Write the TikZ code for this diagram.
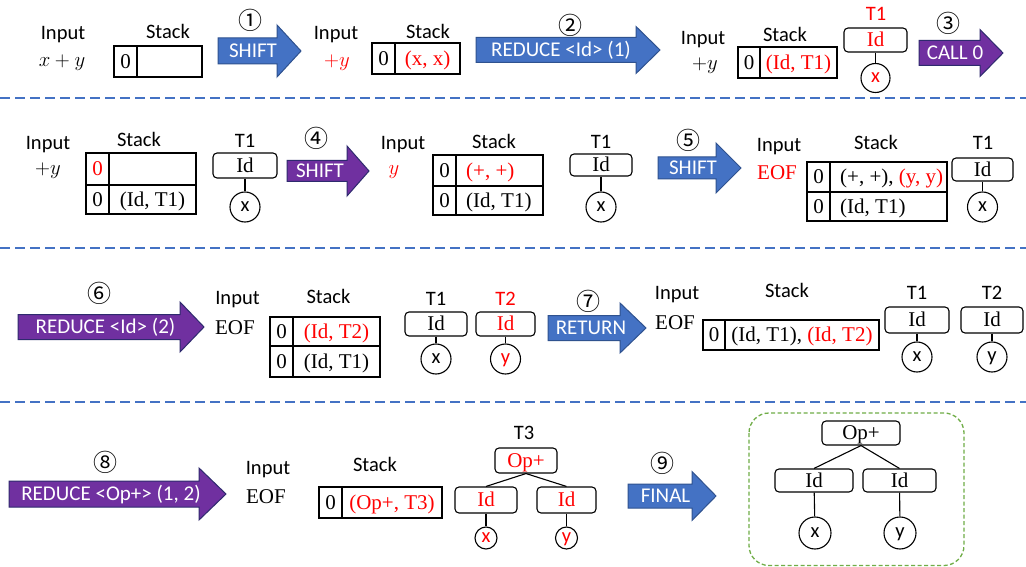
\documentclass[tikz,border=0pt]{standalone}
\usepackage{fontspec}
\setmainfont{Liberation Serif}
\newfontfamily\carlito{Carlito}
\newfontfamily\cjknum{Noto Sans CJK SC}
\definecolor{pblue}{HTML}{4472C4}
\definecolor{pblueb}{HTML}{2F528F}
\definecolor{ppurple}{HTML}{7030A0}
\definecolor{ppurpleb}{HTML}{2E2A6E}
\definecolor{pgreen}{HTML}{70AD47}
\definecolor{pred}{HTML}{FF0000}
\newcounter{arrowno}
\newcommand{\flowarrow}[9]{%
 \stepcounter{arrowno}%
 \filldraw[#7] ({#1},{#4-#5}) -- ({#2},{#4-#5}) -- ({#2},{#4-#6}) -- ({#3},{#4}) -- ({#2},{#4+#6}) -- ({#2},{#4+#5}) -- ({#1},{#4+#5}) -- cycle;
 \node[arrowtext] (arrow\arabic{arrowno}) at ({#8},{#4}) {#9};}
\tikzset{
 lab/.style={font=\carlito\fontsize{20.5}{24}\selectfont, inner sep=0pt, text height=13pt, text depth=0pt},
 ser/.style={font=\fontsize{21}{25}\selectfont, inner sep=0pt, text height=13.9pt, text depth=0pt},
 mth/.style={font=\fontsize{20}{24}\selectfont, inner sep=0pt, text height=8.6pt, text depth=0pt},
 arrowtext/.style={font=\carlito\fontsize{21}{25}\selectfont, text=white, inner sep=0pt, text height=13.2pt, text depth=0pt},
 stepnum/.style={font=\cjknum\fontsize{24}{28}\selectfont, inner sep=0pt},
 bluearrow/.style={fill=pblue, draw=pblueb, line width=1pt},
 purplearrow/.style={fill=ppurple, draw=ppurpleb, line width=1pt},
 stk/.style={line width=1.2pt, draw=black},
 treebox/.style={draw, rounded corners=4pt, line width=1.1pt, inner sep=0pt, font=\fontsize{21}{25}\selectfont, text height=13.9pt, text depth=0pt},
 leaf/.style={draw, circle, line width=1.1pt, inner sep=0pt, font=\carlito\fontsize{20.5}{24}\selectfont, text height=9.5pt, text depth=0pt},
 conn/.style={line width=1.1pt},
 sep/.style={draw=pblue, line width=1.3pt, dash pattern=on 10pt off 5pt},
}
\begin{document}
\begin{tikzpicture}[x=1pt,y=-1pt]
\useasboundingbox[fill=white] (0,0) rectangle (1026,567);

% ---------- Row 1 ----------
\node[lab] (in1) at (63,33) {Input};
\node[mth] (v1) at (62,62) {$x+y$};
\node[lab] (s1) at (168,32) {Stack};
\draw[stk] (114,46) rectangle (202,77); \draw[stk] (137,46) -- (137,77);
\node[ser] (z1) at (125.5,61.5) {0};
\node[stepnum] (n1) at (250,20) {①};
\flowarrow{218}{277}{301}{51}{13}{26}{bluearrow}{253}{SHIFT}

\node[lab] (in2) at (336,33) {Input};
\node[mth, text=pred] (v2) at (337,62) {$+y$};
\node[lab] (s2) at (428,32) {Stack};
\draw[stk] (372,43) rectangle (460,74); \draw[stk] (395,43) -- (395,74);
\node[ser] (z2) at (383.5,58.5) {0};
\node[ser, text=pred] (c2) at (427.5,58.5) {(x, x)};
\node[stepnum] (n2) at (570,25) {②};
\flowarrow{476}{636}{660}{50}{12.5}{23.5}{bluearrow}{561}{REDUCE <Id> (1)}

\node[lab] (in3) at (703,38) {Input};
\node[mth] (v3) at (705,65) {$+y$};
\node[lab] (s3) at (785,35) {Stack};
\draw[stk] (738,47) rectangle (837,78); \draw[stk] (760,47) -- (760,78);
\node[ser] (z3) at (749,62.5) {0};
\node[ser, text=pred] (c3) at (798.5,62.5) {(Id, T1)};
\node[lab, text=pred] (t1a) at (876,14) {T1};
\node[treebox, minimum width=63pt, minimum height=24pt, text=pred] (ida) at (875.5,40) {Id};
\node[leaf, minimum size=29pt, text=pred] (xa) at (875.5,78) {x};
\draw[conn] (ida) -- (xa);
\node[stepnum] (n3) at (948,23) {③};
\flowarrow{919}{980}{1003}{53}{12.5}{23.5}{purplearrow}{955}{CALL 0}

\draw[sep] (0,98) -- (1026,98);

% ---------- Row 2 ----------
\node[lab] (in4) at (48,143) {Input};
\node[mth] (v4) at (48,170) {$+y$};
\node[lab] (s4) at (139,140) {Stack};
\draw[stk] (86,153) rectangle (196,214); \draw[stk] (86,185) -- (196,185); \draw[stk] (109,153) -- (109,214);
\node[ser, text=pred] (z4a) at (97.5,169) {0};
\node[ser] (z4b) at (97.5,199.5) {0};
\node[ser] (c4b) at (152.5,199.5) {(Id, T1)};
\node[lab] (t1b) at (245,141) {T1};
\node[treebox, minimum width=64pt, minimum height=25pt] (idb) at (245,165.5) {Id};
\node[leaf, minimum size=30pt] (xb) at (245,207) {x};
\draw[conn] (idb) -- (xb);
\node[stepnum] (n4) at (316,138) {④};
\flowarrow{287}{347}{369}{171}{10.5}{25}{purplearrow}{320}{SHIFT}

\node[lab] (in5) at (403,143) {Input};
\node[mth, text=pred] (v5) at (394,170) {$y$};
\node[lab] (s5) at (494,142) {Stack};
\draw[stk] (433,155) rectangle (543,215); \draw[stk] (433,186) -- (543,186); \draw[stk] (456,155) -- (456,215);
\node[ser] (z5a) at (444.5,170.5) {0};
\node[ser] (z5b) at (444.5,200.5) {0};
\node[ser, text=pred, anchor=west] (c5a) at (466,170.5) {(+, +)};
\node[ser, anchor=west] (c5b) at (466,200.5) {(Id, T1)};
\node[lab] (t1c) at (601,142.5) {T1};
\node[treebox, minimum width=62pt, minimum height=22pt] (idc) at (601,165) {Id};
\node[leaf, minimum size=30pt] (xc) at (601,207) {x};
\draw[conn] (idc) -- (xc);
\node[stepnum] (n5) at (688,140) {⑤};
\flowarrow{658}{716}{741}{168}{11}{25}{bluearrow}{693}{SHIFT}

\node[lab] (in6) at (779,145) {Input};
\node[ser, text=pred] (v6) at (777,172.5) {EOF};
\node[lab] (s6) at (876,143) {Stack};
\draw[stk] (807,162) rectangle (947,221); \draw[stk] (807,192) -- (947,192); \draw[stk] (830,162) -- (830,221);
\node[ser] (z6a) at (818.5,177) {0};
\node[ser] (z6b) at (818.5,206.5) {0};
\node[ser, anchor=west] (c6a) at (840,177) {(+, +), \textcolor{pred}{(y, y)}};
\node[ser, anchor=west] (c6b) at (840,206.5) {(Id, T1)};
\node[lab] (t1d) at (983,143) {T1};
\node[treebox, minimum width=61pt, minimum height=23pt] (idd) at (982.5,169.5) {Id};
\node[leaf, minimum size=30pt] (xd) at (982.5,207) {x};
\draw[conn] (idd) -- (xd);

\draw[sep] (0,248) -- (1026,248);

% ---------- Row 3 ----------
\node[stepnum] (n6) at (99,293) {⑥};
\flowarrow{18}{180}{204}{327}{12.5}{25}{purplearrow}{105.5}{REDUCE <Id> (2)}
\node[lab] (in7) at (237.5,298) {Input};
\node[ser] (v7) at (235,327.5) {EOF};
\node[lab] (s7) at (328.5,297) {Stack};
\draw[stk] (270,317) rectangle (380,377); \draw[stk] (270,346) -- (380,346); \draw[stk] (293,317) -- (293,377);
\node[ser] (z7a) at (281.5,331.5) {0};
\node[ser] (z7b) at (281.5,361.5) {0};
\node[ser, text=pred] (c7a) at (336.5,331.5) {(Id, T2)};
\node[ser] (c7b) at (336.5,361.5) {(Id, T1)};
\node[lab] (t1e) at (436,299) {T1};
\node[treebox, minimum width=62pt, minimum height=24pt] (ide) at (436,324) {Id};
\node[leaf, minimum size=30pt] (xe) at (436,359) {x};
\draw[conn] (ide) -- (xe);
\node[lab, text=pred] (t2e) at (505.5,299) {T2};
\node[treebox, minimum width=59pt, minimum height=24pt, text=pred] (ide2) at (505.5,324) {Id};
\node[leaf, minimum size=30pt, text=pred] (ye) at (505.5,359) {y};
\draw[conn] (ide2) -- (ye);
\node[stepnum] (n7) at (588,301) {⑦};
\flowarrow{548}{620}{646}{328}{12.5}{25}{bluearrow}{591}{RETURN}

\node[lab] (in8) at (677,293) {Input};
\node[ser] (v8) at (675,322.5) {EOF};
\node[lab] (s8) at (787,291) {Stack};
\draw[stk] (703,320) rectangle (879,350); \draw[stk] (725,320) -- (725,350);
\node[ser] (z8) at (714,335) {0};
\node[ser] (c8) at (802,335) {(Id, T1), \textcolor{pred}{(Id, T2)}};
\node[lab] (t1f) at (917,292.5) {T1};
\node[treebox, minimum width=64pt, minimum height=26pt] (idf) at (917,320) {Id};
\node[leaf, minimum size=30pt] (xf) at (917,357) {x};
\draw[conn] (idf) -- (xf);
\node[lab] (t2f) at (992,292.5) {T2};
\node[treebox, minimum width=62pt, minimum height=26pt] (idf2) at (992,320) {Id};
\node[leaf, minimum size=30pt] (yf) at (992,357) {y};
\draw[conn] (idf2) -- (yf);

\draw[sep] (0,402) -- (1026,402);

% ---------- Row 4 ----------
\node[stepnum] (n8) at (105,462) {⑧};
\flowarrow{9}{199}{226}{494}{13}{26}{purplearrow}{111}{REDUCE <Op+> (1, 2)}
\node[lab] (in9) at (268,467.5) {Input};
\node[ser] (v9) at (266,496.5) {EOF};
\node[lab] (s9) at (375,465) {Stack};
\draw[stk] (319,487) rectangle (442,518); \draw[stk] (342,487) -- (342,518);
\node[ser] (z9) at (330.5,502.5) {0};
\node[ser, text=pred] (c9) at (392,502.5) {(Op+, T3)};
\node[lab] (t3) at (524,433) {T3};
\node[treebox, minimum width=62pt, minimum height=25pt, text=pred] (opg) at (526,460.5) {Op+};
\node[treebox, minimum width=62pt, minimum height=26pt, text=pred] (idg1) at (486,500) {Id};
\node[treebox, minimum width=59pt, minimum height=26pt, text=pred] (idg2) at (566.5,500) {Id};
\node[leaf, minimum size=22pt, text=pred] (xg) at (486,538) {x};
\node[leaf, minimum size=22pt, text=pred] (yg) at (566.5,538) {y};
\draw[conn] (opg.south) -- (idg1.north);
\draw[conn] (opg.south) -- (idg2.north);
\draw[conn] (idg1) -- (xg);
\draw[conn] (idg2) -- (yg);
\node[stepnum] (n9) at (662,463) {⑨};
\flowarrow{628}{692}{716}{496}{12}{24.5}{bluearrow}{665.5}{FINAL}

\draw[draw=pgreen, line width=1.3pt, dash pattern=on 4pt off 2.5pt, rounded corners=20pt] (749,413) rectangle (964,565.5);
\node[treebox, minimum width=78pt, minimum height=24pt] (oph) at (861,433) {Op+};
\node[treebox, minimum width=78pt, minimum height=23pt] (idh1) at (814,480.5) {Id};
\node[treebox, minimum width=73pt, minimum height=23pt] (idh2) at (899.5,480.5) {Id};
\node[leaf, minimum size=32pt] (xh) at (815,533) {x};
\node[leaf, minimum size=32pt] (yh) at (900,533) {y};
\draw[conn] (oph.south) -- (idh1.north);
\draw[conn] (oph.south) -- (idh2.north);
\draw[conn] (idh1) -- (xh);
\draw[conn] (idh2) -- (yh);
\end{tikzpicture}
\end{document}
